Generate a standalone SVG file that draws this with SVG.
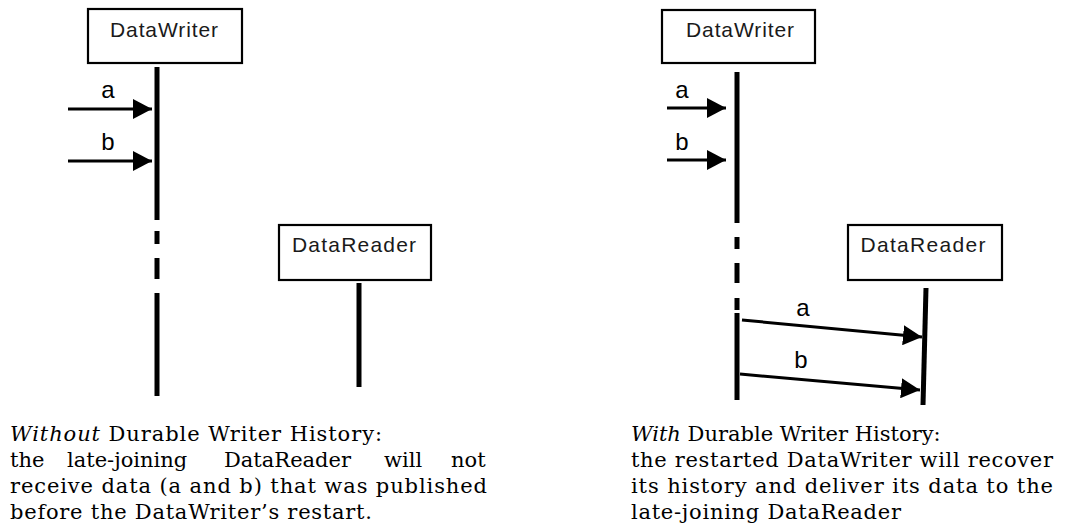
<svg xmlns="http://www.w3.org/2000/svg" width="1071" height="529" viewBox="0 0 1071 529">
<defs>
<style>
.box{fill:#fff;stroke:#000;stroke-width:2.2}
.lbl{font-family:"Liberation Sans",Arial,sans-serif;font-size:21px;fill:#1a1a1a;text-anchor:middle}
.msg{font-family:"Liberation Sans",Arial,sans-serif;font-size:24px;fill:#000;text-anchor:middle}
.life{stroke:#000;stroke-width:5;fill:none}
.arr{stroke:#000;stroke-width:3;fill:none;marker-end:url(#ah)}
.cap{font-family:"DejaVu Serif","Liberation Serif",serif;font-size:21px;fill:#000}
</style>
<marker id="ah" markerUnits="userSpaceOnUse" markerWidth="20" markerHeight="20" refX="19" refY="10" orient="auto">
<path d="M0,0 L19,10 L0,20 Z" fill="#000"/>
</marker>
</defs>
<g id="left-writer">
<rect class="box" x="88" y="9" width="154" height="54"/>
<text class="lbl" x="164" y="37" textLength="108">DataWriter</text>
</g>
<g id="left-reader">
<rect class="box" x="279" y="225" width="152" height="55"/>
<text class="lbl" x="354" y="252" textLength="124">DataReader</text>
</g>
<g id="right-writer">
<rect class="box" x="662" y="10" width="153" height="53"/>
<text class="lbl" x="740" y="37" textLength="108">DataWriter</text>
</g>
<g id="right-reader">
<rect class="box" x="848" y="225" width="154" height="55"/>
<text class="lbl" x="923" y="252" textLength="125">DataReader</text>
</g>
<g id="connectors">
<path class="life" d="M157,67V220M157,231V244M157,258V279M157,293V396"/>
<path class="life" d="M359,283V387"/>
<path class="life" d="M737,72V223M737,237V249M737,263V283M737,298V310M737,313V400"/>
<path class="life" stroke-width="4" d="M926,288L923,405"/>
<line class="arr" x1="68" y1="109" x2="152" y2="109"/>
<line class="arr" x1="68" y1="161" x2="152" y2="161"/>
<line class="arr" x1="667" y1="108" x2="726" y2="108"/>
<line class="arr" x1="667" y1="160" x2="726" y2="160"/>
<line class="arr" x1="742" y1="320" x2="922" y2="337"/>
<line class="arr" x1="740" y1="374" x2="920" y2="390"/>
<text class="msg" x="108" y="98">a</text>
<text class="msg" x="108" y="150">b</text>
<text class="msg" x="682" y="98">a</text>
<text class="msg" x="682" y="150">b</text>
<text class="msg" x="803" y="316">a</text>
<text class="msg" x="801" y="368">b</text>
</g>
<g id="caption-left">
<text class="cap" x="10" y="441" textLength="372"><tspan font-style="italic">Without</tspan> Durable Writer History:</text>
<text class="cap" y="467"><tspan x="10">the</tspan><tspan x="67">late-joining</tspan><tspan x="224">DataReader</tspan><tspan x="384">will</tspan><tspan x="451">not</tspan></text>
<text class="cap" x="10" y="493" textLength="477">receive data (a and b) that was published</text>
<text class="cap" x="10" y="519" textLength="362">before the DataWriter’s restart.</text>
</g>
<g id="caption-right">
<text class="cap" x="631" y="441"><tspan font-style="italic">With</tspan> Durable Writer History:</text>
<text class="cap" x="631" y="467" textLength="422">the restarted DataWriter will recover</text>
<text class="cap" x="631" y="493" textLength="422">its history and deliver its data to the</text>
<text class="cap" x="631" y="519" textLength="270">late-joining DataReader</text>
</g>
</svg>
